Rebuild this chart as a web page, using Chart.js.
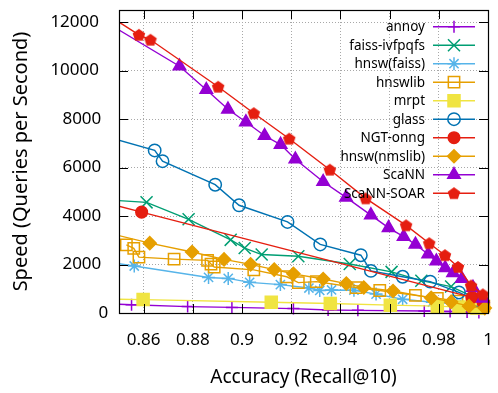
<!DOCTYPE html>
<html><head><meta charset="utf-8">
<script src="https://cdn.jsdelivr.net/npm/chart.js@4/dist/chart.umd.min.js"></script>
<style>html,body{margin:0;padding:0;background:#fff;}canvas{display:block;}</style>
</head><body>
<canvas id="c" width="498" height="393"></canvas>
<script>
// ---- axis ticks ----
const xTickValues = [0.86, 0.88, 0.9, 0.92, 0.94, 0.96, 0.98, 1];
const xTickLabels = ['0.86', '0.88', '0.9', '0.92', '0.94', '0.96', '0.98', '1'];
const yTickValues = [0, 2000, 4000, 6000, 8000, 10000, 12000];
const yTickLabels = ['0', '2000', '4000', '6000', '8000', '10000', '12000'];
const xTitle = 'Accuracy (Recall@10)';
const yTitle = 'Speed (Queries per Second)';

// ---- series (recall, queries per second) ----
const annoyRecall = [0.840, 0.8551, 0.8779, 0.8959, 0.9209, 0.9350, 0.9471, 0.9741, 0.9846, 0.9915, 0.9963];
const annoyQps    = [390, 343, 263, 230, 182, 121, 109, 81, 61, 40, 20];

const faissIvfRecall = [0.840, 0.8612, 0.8783, 0.8954, 0.9011, 0.9080, 0.9229, 0.9438, 0.9608, 0.9729, 0.9850, 0.9965];
const faissIvfQps    = [4700, 4565, 3866, 3018, 2679, 2412, 2343, 2020, 1697, 1333, 1091, 550];

const hnswFaissRecall = [0.840, 0.8562, 0.8864, 0.8944, 0.9031, 0.9156, 0.9272, 0.9316, 0.9364, 0.9455, 0.9545, 0.9653, 0.9774, 0.9874, 0.9955];
const hnswFaissQps    = [2185, 1939, 1467, 1426, 1265, 1172, 1030, 930, 950, 940, 780, 566, 444, 364, 283];

const hnswlibRecall = [0.8530, 0.8560, 0.8581, 0.8724, 0.8860, 0.8874, 0.8887, 0.9048, 0.9182, 0.9229, 0.9302, 0.9463, 0.9560, 0.9705, 0.9794, 0.9874, 0.9935, 0.9983];
const hnswlibQps    = [2808, 2666, 2303, 2222, 2169, 2020, 1899, 1778, 1495, 1252, 1293, 1050, 929, 727, 606, 485, 404, 283];

const mrptRecall = [0.840, 0.8598, 0.9119, 0.9359, 0.9603, 0.9794, 0.9882, 0.9955];
const mrptQps    = [580, 553, 444, 392, 323, 283, 242, 202];

const glassRecall = [0.840, 0.8645, 0.8677, 0.8891, 0.8988, 0.9185, 0.9318, 0.9483, 0.9524, 0.9653, 0.9765, 0.9882, 0.9950];
const glassQps    = [7410, 6706, 6262, 5292, 4444, 3757, 2828, 2384, 1737, 1495, 1293, 848, 525];

const ngtRecall = [0.840, 0.8592, 0.9935, 0.9980];
const ngtQps    = [4668, 4161, 646, 450];

const nmslibRecall = [0.840, 0.8625, 0.8797, 0.8927, 0.9035, 0.9131, 0.9209, 0.9330, 0.9424, 0.9495, 0.9614, 0.9769, 0.9850, 0.9923, 0.9987];
const nmslibQps    = [3440, 2881, 2517, 2210, 2008, 1790, 1616, 1402, 1212, 1050, 909, 626, 457, 283, 202];

const scannRecall = [0.840, 0.8746, 0.8855, 0.8943, 0.9016, 0.9092, 0.9157, 0.9217, 0.9330, 0.9423, 0.9524, 0.9596, 0.9657, 0.9705, 0.9757, 0.9790, 0.9826, 0.9858, 0.9894, 0.9939, 0.9979];
const scannQps    = [12280, 10181, 9211, 8403, 7878, 7312, 6949, 6343, 5414, 4767, 4040, 3515, 3151, 2828, 2424, 2141, 1858, 1656, 1414, 1050, 606];

const soarRecall = [0.840, 0.8581, 0.8628, 0.8903, 0.9048, 0.9192, 0.9357, 0.9503, 0.9667, 0.9761, 0.9825, 0.9878, 0.9931, 0.9979];
const soarQps    = [12650, 11474, 11272, 9332, 8242, 7191, 5911, 4727, 3616, 2880, 2384, 1899, 1131, 768];

const seriesNames = ['annoy', 'faiss-ivfpqfs', 'hnsw(faiss)', 'hnswlib', 'mrpt', 'glass', 'NGT-onng', 'hnsw(nmslib)', 'ScaNN', 'ScaNN-SOAR'];
const seriesRecall = [annoyRecall, faissIvfRecall, hnswFaissRecall, hnswlibRecall, mrptRecall, glassRecall, ngtRecall, nmslibRecall, scannRecall, soarRecall];
const seriesQps = [annoyQps, faissIvfQps, hnswFaissQps, hnswlibQps, mrptQps, glassQps, ngtQps, nmslibQps, scannQps, soarQps];

// ---- styles ----
const FONT = "'Noto Sans', 'Open Sans', sans-serif";
const PURPLE = '#9400d3', GREEN = '#009e73', LBLUE = '#56b4e9', ORANGE = '#e69f00',
      YELLOW = '#f0e442', DBLUE = '#0072b2', RED = '#e51e10';

function pentagon(color, R) {
  const s = Math.ceil(2 * R + 4);
  const cv = document.createElement('canvas');
  cv.width = s; cv.height = s;
  const g = cv.getContext('2d');
  g.beginPath();
  for (let k = 0; k < 5; k++) {
    const a = -Math.PI / 2 + k * 2 * Math.PI / 5;
    const px = s / 2 + R * Math.cos(a), py = s / 2 + 0.5 + R * Math.sin(a);
    if (k === 0) g.moveTo(px, py); else g.lineTo(px, py);
  }
  g.closePath();
  g.fillStyle = color; g.fill();
  return cv;
}

const seriesStyle = [
  {color: PURPLE, style: 'cross', r: 6, fill: false},
  {color: GREEN, style: 'crossRot', r: 8.5, fill: false},
  {color: LBLUE, style: 'star', r: 6.5, fill: false},
  {color: ORANGE, style: 'rect', r: 8, fill: false},
  {color: YELLOW, style: 'rect', r: 8.5, fill: true},
  {color: DBLUE, style: 'circle', r: 6.2, fill: false},
  {color: RED, style: 'circle', r: 5.8, fill: true},
  {color: ORANGE, style: 'rectRot', r: 6.5, fill: true},
  {color: PURPLE, style: 'triangle', r: 7.2, fill: true},
  {color: RED, style: pentagon(RED, 6.6), r: 7, fill: true}
];

const datasets = seriesNames.map((name, i) => {
  const st = seriesStyle[i];
  return {
    label: name,
    data: seriesRecall[i].map((x, j) => ({x: x, y: seriesQps[i][j]})),
    showLine: true,
    borderColor: st.color,
    backgroundColor: st.color,
    borderWidth: 1.4,
    pointStyle: st.style,
    pointRadius: st.r,
    pointHoverRadius: st.r,
    pointBorderWidth: 1.5,
    pointBorderColor: st.color,
    pointBackgroundColor: st.fill ? st.color : 'rgba(0,0,0,0)',
    order: seriesNames.length - i,
    clip: {left: 0, top: 0, right: 12, bottom: 12}
  };
});

// frame, inward ticks, y-label placement and key
const framePlugin = {
  id: 'frameKey',
  beforeDraw(chart) {
    const ys = chart.scales.y;
    const items = ys.getLabelItems();
    items.forEach(it => {
      const n = String(it.label).length;
      it.options.translation[0] = 110.5 - 2.3 * n;
      it.options.textAlign = 'right';
    });
  },
  afterDatasetsDraw(chart) {
    const ctx = chart.ctx;
    const a = chart.chartArea;
    const xs = chart.scales.x, ys = chart.scales.y;
    ctx.save();
    ctx.strokeStyle = '#000';
    ctx.lineWidth = 1;
    ctx.setLineDash([]);
    ctx.beginPath();
    const TL = 9;
    xTickValues.forEach(v => {
      const px = Math.round(xs.getPixelForValue(v)) + 0.5;
      ctx.moveTo(px, a.bottom); ctx.lineTo(px, a.bottom - TL);
      ctx.moveTo(px, a.top); ctx.lineTo(px, a.top + TL);
    });
    yTickValues.forEach(v => {
      const py = Math.round(ys.getPixelForValue(v)) + 0.5;
      ctx.moveTo(a.left, py); ctx.lineTo(a.left + TL, py);
      ctx.moveTo(a.right, py); ctx.lineTo(a.right - TL, py);
    });
    ctx.stroke();
    ctx.lineWidth = 1.2;
    ctx.strokeRect(Math.round(a.left) + 0.5, Math.round(a.top) + 0.5, Math.round(a.right - a.left), Math.round(a.bottom - a.top));

    // key
    const keyTextX = 425, lineX0 = 433, lineX1 = 475, markX = 454, y0 = 26.7, dy = 18.5;
    ctx.font = '13.5px ' + FONT;
    ctx.textAlign = 'right';
    ctx.textBaseline = 'middle';
    chart.data.datasets.forEach((ds, i) => {
      const y = y0 + i * dy;
      ctx.fillStyle = '#000';
      ctx.fillText(ds.label, keyTextX, y + 0.5);
      ctx.strokeStyle = ds.borderColor;
      ctx.lineWidth = 1.4;
      ctx.beginPath(); ctx.moveTo(lineX0, y); ctx.lineTo(lineX1, y); ctx.stroke();
      ctx.lineWidth = ds.pointBorderWidth;
      ctx.fillStyle = ds.pointBackgroundColor;
      ctx.strokeStyle = ds.pointBorderColor;
      Chart.helpers.drawPoint(ctx, {pointStyle: ds.pointStyle, radius: ds.pointRadius, rotation: 0, borderWidth: ds.pointBorderWidth}, markX, y);
    });
    ctx.restore();
  }
};

new Chart(document.getElementById('c'), {
  type: 'scatter',
  data: {datasets: datasets},
  plugins: [framePlugin],
  options: {
    responsive: false,
    animation: false,
    devicePixelRatio: 1,
    events: [],
    layout: {padding: {top: 4, right: 7, left: 0, bottom: 0}},
    plugins: {legend: {display: false}, tooltip: {enabled: false}},
    scales: {
      x: {
        type: 'linear', min: 0.85, max: 1.0,
        afterBuildTicks: s => { s.ticks = xTickValues.map(v => ({value: v})); },
        afterFit: s => { s.height = 80; s.paddingLeft = 0; s.paddingRight = 0; },
        ticks: {
          autoSkip: false, maxRotation: 0, padding: 17, color: '#000',
          font: {family: FONT, size: 17},
          callback: (v, i) => xTickLabels[i]
        },
        grid: {color: '#a8a8a8', lineWidth: 1, drawTicks: false},
        border: {display: false, dash: [1, 2]},
        title: {display: true, text: xTitle, color: '#000', font: {family: FONT, size: 19}, padding: {top: 0, bottom: 4}}
      },
      y: {
        type: 'linear', min: 0, max: 12500,
        afterBuildTicks: s => { s.ticks = yTickValues.map(v => ({value: v})); },
        afterFit: s => { s.width = 119; s.paddingTop = 0; s.paddingBottom = 0; },
        ticks: {
          autoSkip: false, padding: 20, color: '#000',
          font: {family: FONT, size: 17},
          callback: (v, i) => yTickLabels[i]
        },
        grid: {color: '#a8a8a8', lineWidth: 1, drawTicks: false},
        border: {display: false, dash: [1, 2]},
        title: {display: true, text: yTitle, color: '#000', font: {family: FONT, size: 20}, padding: {top: 9, bottom: 0}}
      }
    }
  }
});
</script>
</body></html>
